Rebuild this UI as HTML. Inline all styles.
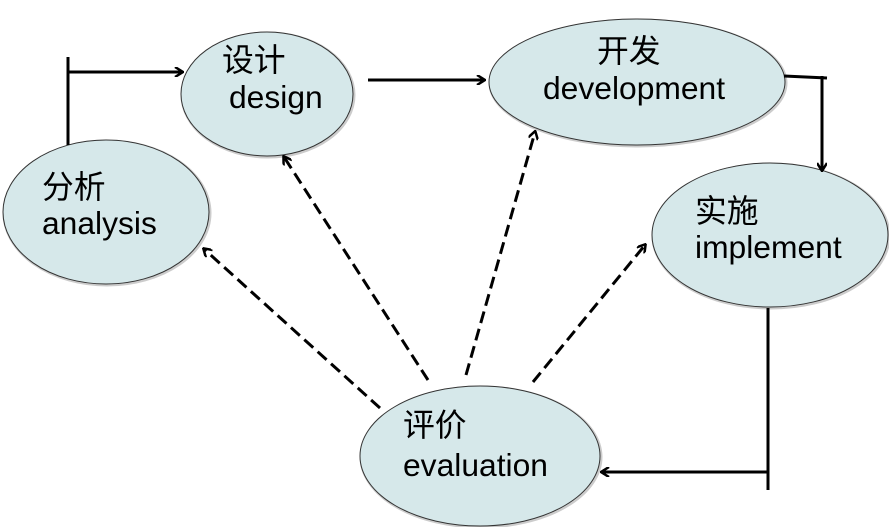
<!DOCTYPE html>
<html><head><meta charset="utf-8"><style>body{margin:0;background:#fff}svg{display:block}</style></head><body>
<svg width="889" height="527" viewBox="0 0 889 527" xmlns="http://www.w3.org/2000/svg" font-family="'Liberation Sans','Noto Sans CJK SC',sans-serif" font-size="31.8" fill="#000">
<defs>
<marker id="a" markerWidth="10" markerHeight="10" refX="8" refY="5" orient="auto" markerUnits="userSpaceOnUse"><path d="M1,0 L9,5 L1,10" fill="none" stroke="#000" stroke-width="2.5"/></marker>
</defs>
<g stroke="#ccc" stroke-width="3" fill="none">
<ellipse cx="107" cy="213" rx="103" ry="72"/>
<ellipse cx="268" cy="95" rx="86" ry="62"/>
<ellipse cx="638" cy="83" rx="148" ry="63"/>
<ellipse cx="771" cy="236" rx="118" ry="72"/>
<ellipse cx="481" cy="457" rx="120" ry="70"/>
</g>
<g fill="#d6e8ea" stroke="#333" stroke-width="1">
<ellipse cx="106" cy="212" rx="103" ry="72"/>
<ellipse cx="267" cy="94" rx="86" ry="62"/>
<ellipse cx="637" cy="82" rx="148" ry="63"/>
<ellipse cx="770" cy="235" rx="118" ry="72"/>
<ellipse cx="480" cy="456" rx="120" ry="70"/>
</g>
<g stroke="#000" stroke-width="3" fill="none">
<path d="M68,145 L68,57"/>
<path d="M68,72 L182,72" marker-end="url(#a)"/>
<path d="M368,80 L484,80" marker-end="url(#a)"/>
<path d="M784,76 L827,78"/>
<path d="M822,76 L822,170" marker-end="url(#a)"/>
<path d="M768,308 L768,490"/>
<path d="M768,472 L602,472" marker-end="url(#a)"/>
</g>
<g stroke="#000" stroke-width="3" fill="none" stroke-dasharray="12,6">
<path d="M380,408 L204,249" marker-end="url(#a)"/>
<path d="M428,380 L284,157" marker-end="url(#a)"/>
<path d="M466,375 L535,132" marker-end="url(#a)"/>
<path d="M533,382 L645,245" marker-end="url(#a)"/>
</g>
<text x="42" y="198">分析</text><text x="42" y="234">analysis</text>
<text x="222" y="71">设计</text><text x="229" y="108">design</text>
<text x="597" y="62">开发</text><text x="543" y="99">development</text>
<text x="695" y="222">实施</text><text x="695" y="258">implement</text>
<text x="403" y="436">评价</text><text x="403" y="476">evaluation</text>
</svg>
</body></html>
